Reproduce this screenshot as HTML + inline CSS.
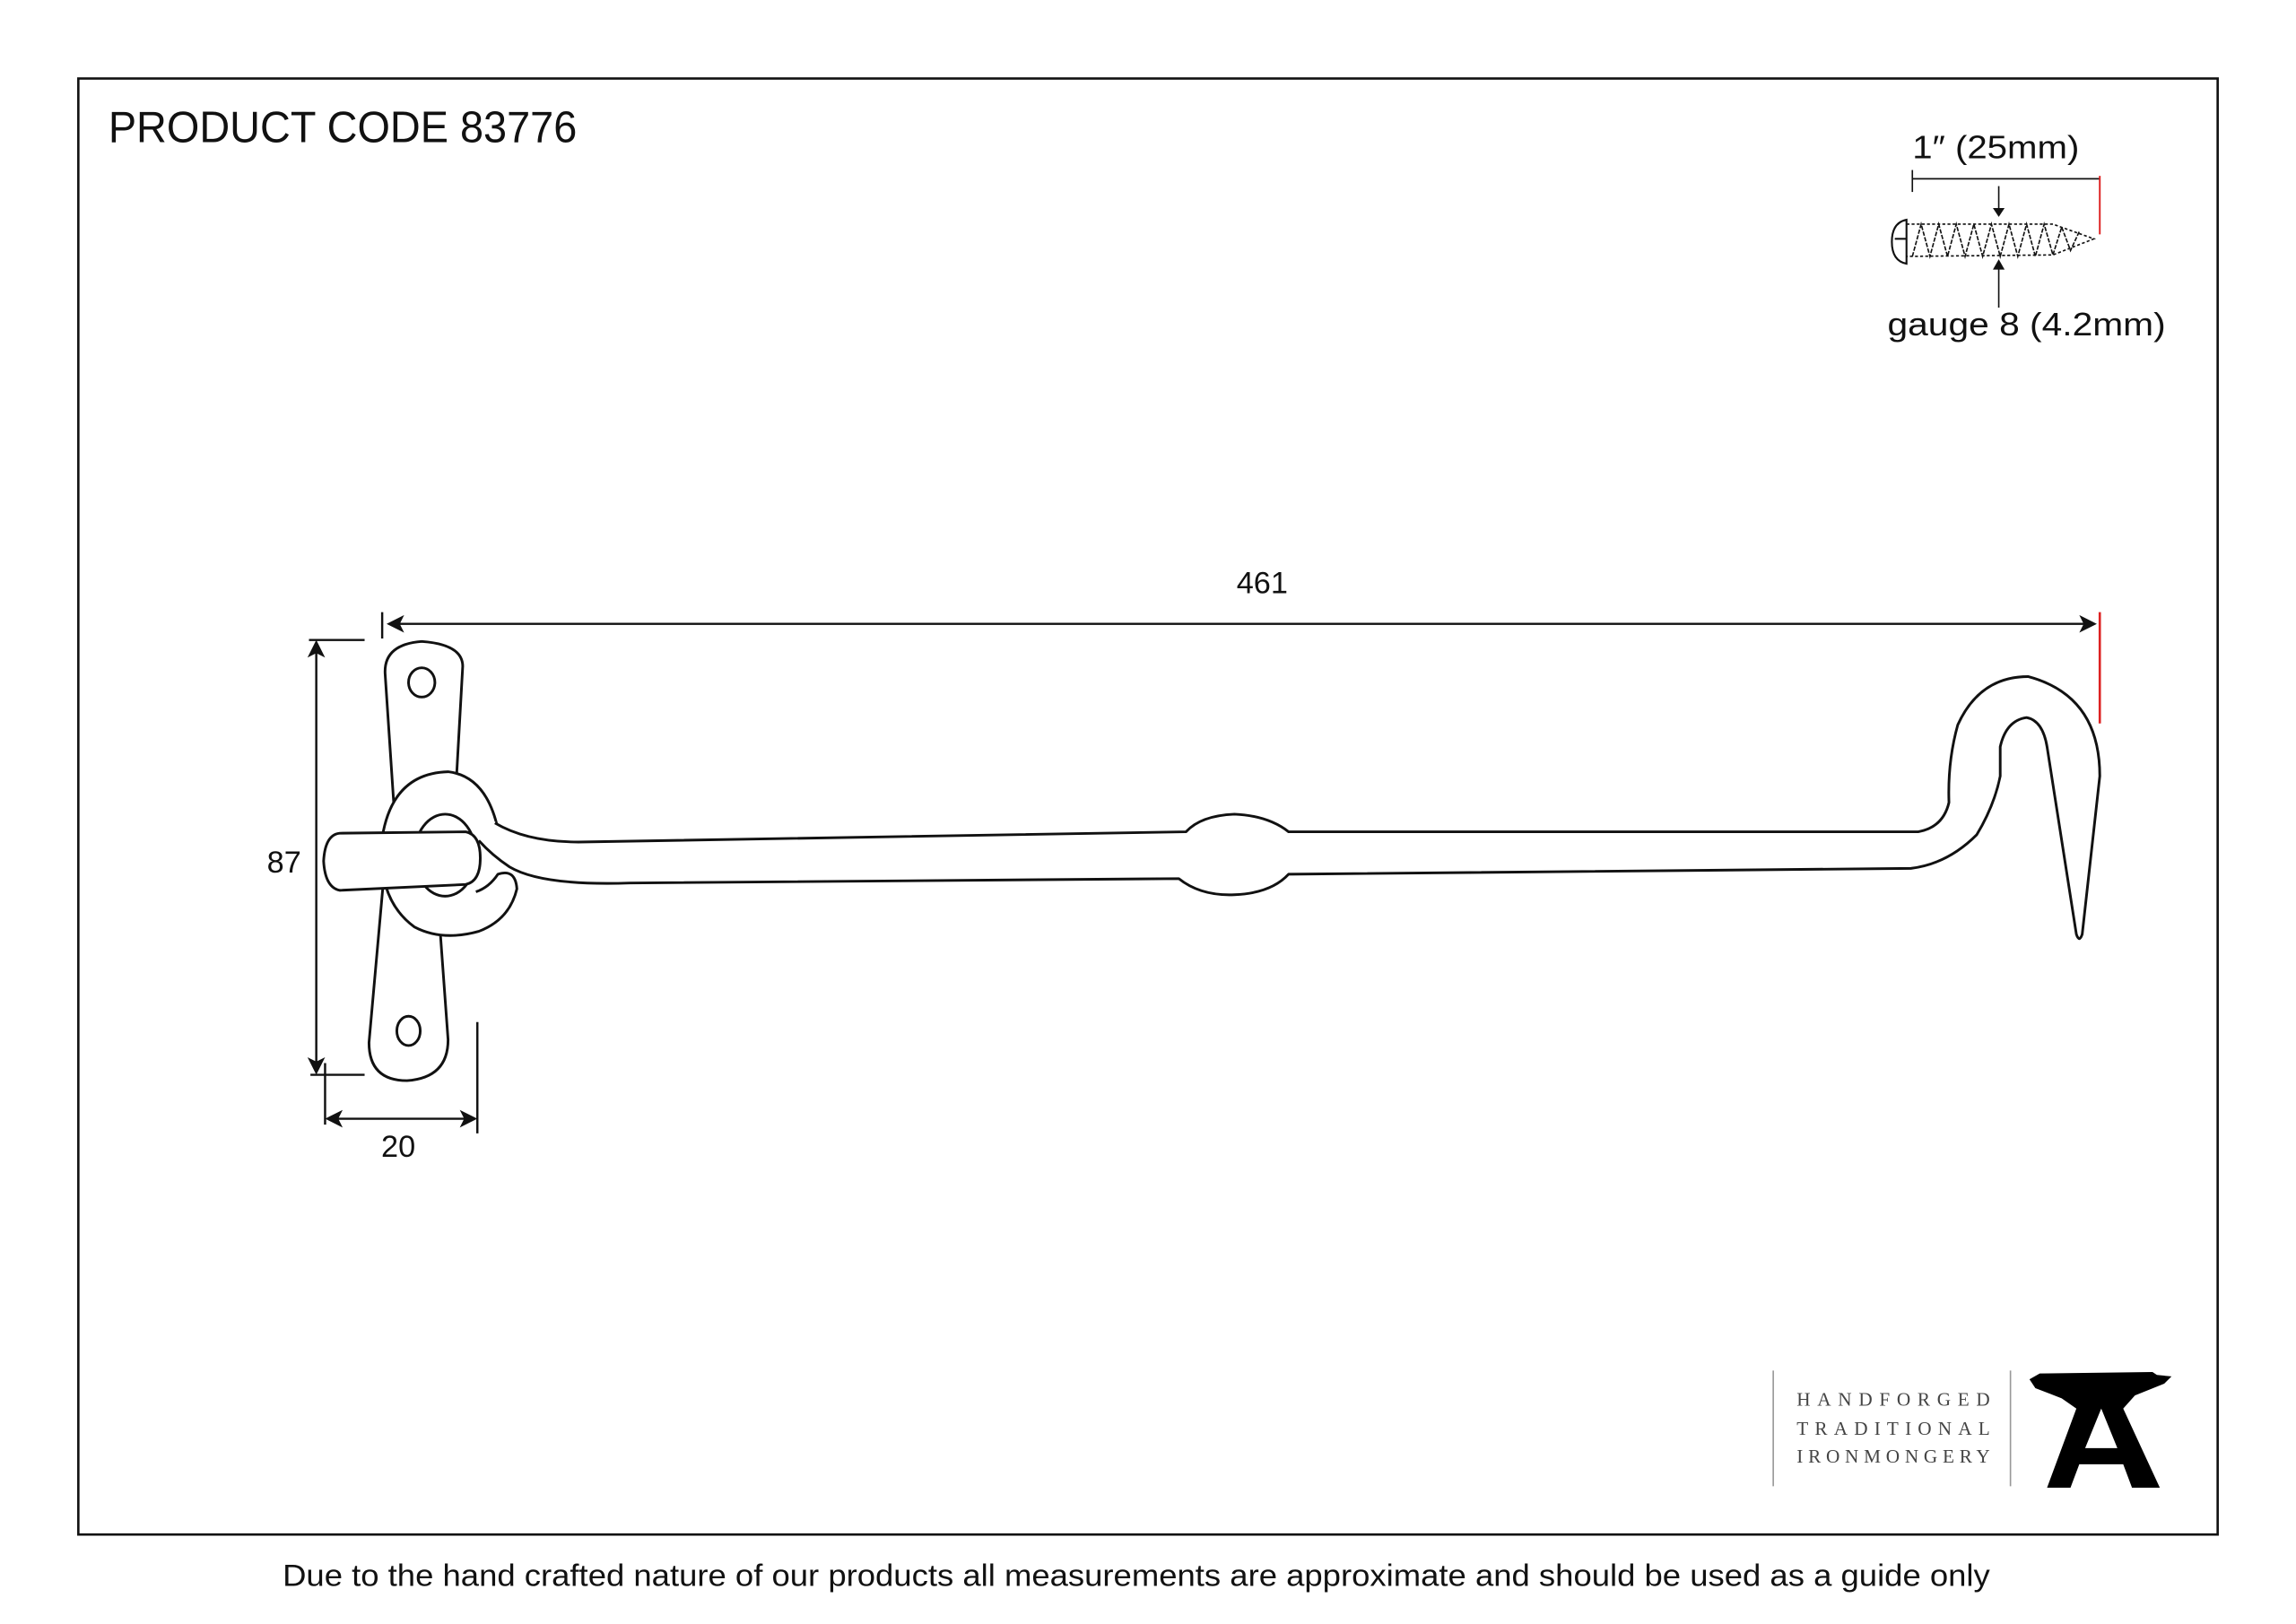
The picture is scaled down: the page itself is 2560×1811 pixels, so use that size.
<!DOCTYPE html>
<html><head><meta charset="utf-8"><style>
html,body{margin:0;padding:0;background:#fff;}
svg{display:block;}
</style></head><body>
<svg width="2560" height="1811" viewBox="0 0 1568 1109" xmlns="http://www.w3.org/2000/svg">
<rect x="0" y="0" width="1568" height="1109" fill="#fff"/>
<rect x="53.5" y="53.5" width="1461" height="994.5" fill="none" stroke="#111" stroke-width="1.6"/>
<text x="74" y="97" font-family="Liberation Sans, sans-serif" font-size="30" fill="#111" textLength="320" lengthAdjust="spacingAndGlyphs">PRODUCT CODE 83776</text>
<text x="776" y="1083" text-anchor="middle" font-family="Liberation Sans, sans-serif" font-size="21" fill="#111" textLength="1166" lengthAdjust="spacingAndGlyphs">Due to the hand crafted nature of our products all measurements are approximate and should be used as a guide only</text>

<!-- screw -->
<g font-family="Liberation Sans, sans-serif" fill="#111">
<text x="1363" y="108" text-anchor="middle" font-size="22" textLength="114" lengthAdjust="spacingAndGlyphs">1″ (25mm)</text>
<text x="1384" y="229" text-anchor="middle" font-size="22" textLength="190" lengthAdjust="spacingAndGlyphs">gauge 8 (4.2mm)</text>
</g>
<g stroke="#111" stroke-width="1" fill="none">
<line x1="1306" y1="122" x2="1434" y2="122"/>
<line x1="1306" y1="116" x2="1306" y2="131"/>
<line x1="1365" y1="127" x2="1365" y2="143"/>
<line x1="1365" y1="181" x2="1365" y2="210"/>
<path d="M1302 150 Q1292 152 1292 165 Q1292 178 1302 180 Z" stroke-width="1.3"/>
<line x1="1294" y1="163" x2="1302" y2="163" stroke-width="1.3"/>
<path d="M1302 153 L1402 153 L1430 163 L1402 174 L1302 175" stroke-width="1" stroke-dasharray="2 1.5"/>
<path d="M1306 175 L1312 153 L1318 175 L1324 153 L1330 175 L1336 153 L1342 175 L1348 153 L1354 175 L1360 153 L1366 175 L1372 153 L1378 175 L1384 153 L1390 175 L1396 153 L1402 174 L1408 155 L1414 171 L1420 158" stroke-width="1" stroke-dasharray="3 1"/>
</g>
<path d="M1361 142 L1369 142 L1365 148 Z" fill="#111"/>
<path d="M1361 184 L1369 184 L1365 177 Z" fill="#111"/>
<line x1="1434" y1="120" x2="1434" y2="160" stroke="#d22" stroke-width="1.2"/>

<!-- dimensions -->
<g stroke="#111" stroke-width="1.5" fill="none">
<line x1="266" y1="426" x2="1428" y2="426"/>
<line x1="261" y1="418" x2="261" y2="436"/>
<line x1="216" y1="441" x2="216" y2="730"/>
<line x1="211" y1="437" x2="249" y2="437"/>
<line x1="212" y1="734" x2="249" y2="734"/>
<line x1="222" y1="726" x2="222" y2="768"/>
<line x1="226" y1="764" x2="322" y2="764"/>
<line x1="326" y1="698" x2="326" y2="774"/>
</g>
<g fill="#111">
<path d="M264 426 L276 420 L273 426 L276 432 Z"/>
<path d="M1432 426 L1420 420 L1423 426 L1420 432 Z"/>
<path d="M216 437 L210 449 L216 446 L222 449 Z"/>
<path d="M216 734 L210 722 L216 725 L222 722 Z"/>
<path d="M222 764 L234 758 L231 764 L234 770 Z"/>
<path d="M326 764 L314 758 L317 764 L314 770 Z"/>
</g>
<line x1="1434" y1="418" x2="1434" y2="494" stroke="#d22" stroke-width="1.6"/>
<g font-family="Liberation Sans, sans-serif" font-size="21" fill="#111" text-anchor="middle">
<text x="862" y="405">461</text>
<text x="194" y="596">87</text>
<text x="272" y="790">20</text>
</g>

<!-- hook drawing -->
<g stroke="#111" stroke-width="1.8" fill="#fff" stroke-linejoin="round">
<!-- plate -->
<path d="M271 580 L263 460 Q262 440 288 438 Q316 440 316 455 L309 580 Z"/>
<path d="M262 600 L252 712 Q252 738 278 738 Q306 736 306 710 L298 600 Z"/>
<ellipse cx="288" cy="466" rx="9" ry="10"/>
<ellipse cx="279" cy="704" rx="8" ry="10"/>
<!-- ring -->
<path stroke="none" d="M350 560 Q336 528 306 527 Q268 528 261 572 Q257 614 283 633 Q302 643 327 636 Q348 628 353 607 Q352 593 340 597 Q334 606 325 609 L330 580 Z"/>
<path fill="none" d="M340 566 Q332 530 306 527 Q268 528 261 572 Q257 614 283 633 Q302 643 327 636 Q348 628 353 607 Q352 593 340 597 Q334 606 325 609"/>
<ellipse cx="304" cy="584" rx="21" ry="28"/>
<!-- bar fill -->
<path stroke="none" d="M336 560 Q360 575 395 575 L810 568 Q820 557 843 556 Q866 557 880 568 L1310 568 Q1327 565 1331 548 Q1330 520 1337 495 Q1352 462 1385 462 Q1434 475 1434 530 L1422 638 Q1420 644 1418 638 L1398 510 Q1395 492 1384 490 Q1370 492 1366 510 L1366 530 Q1362 550 1350 570 Q1330 590 1305 593 L880 597 Q868 610 843 611 Q820 612 805 600 L430 603 Q370 605 345 590 L326 575 Z"/>
<path fill="none" d="M338 562 Q360 575 395 575 L810 568 Q820 557 843 556 Q866 557 880 568 L1310 568 Q1327 565 1331 548 Q1330 520 1337 495 Q1352 462 1385 462 Q1434 475 1434 530 L1422 638 Q1420 644 1418 638 L1398 510 Q1395 492 1384 490 Q1370 492 1366 510 L1366 530 Q1362 550 1350 570 Q1330 590 1305 593 L880 597 Q868 610 843 611 Q820 612 805 600 L430 603 Q370 605 348 592 Q336 584 327 574"/>
<!-- pin -->
<path d="M232 569 L318 568 Q328 570 328 586 Q328 602 318 604 L232 608 Q222 606 221 588 Q222 570 232 569 Z"/>
</g>

<!-- logo -->
<g stroke="#999" stroke-width="1"><line x1="1211" y1="936" x2="1211" y2="1015"/><line x1="1373" y1="936" x2="1373" y2="1015"/></g>
<g font-family="Liberation Serif, serif" font-size="13" fill="#444">
<text x="1227" y="960" textLength="132" lengthAdjust="spacing">HANDFORGED</text>
<text x="1227" y="980" textLength="132" lengthAdjust="spacing">TRADITIONAL</text>
<text x="1227" y="999" textLength="132" lengthAdjust="spacing">IRONMONGERY</text>
</g>
<path fill="#000" d="M1386 942 L1393 938 L1470 937 L1473 939 L1483 940 L1478 945 L1458 953 L1450 962 L1475 1016 L1456 1016 L1450 1000 L1420 1000 L1414 1016 L1398 1016 L1418 962 L1408 955 L1390 948 Z M1435 962 L1424 989 L1446 989 Z"/>
</svg>
</body></html>
